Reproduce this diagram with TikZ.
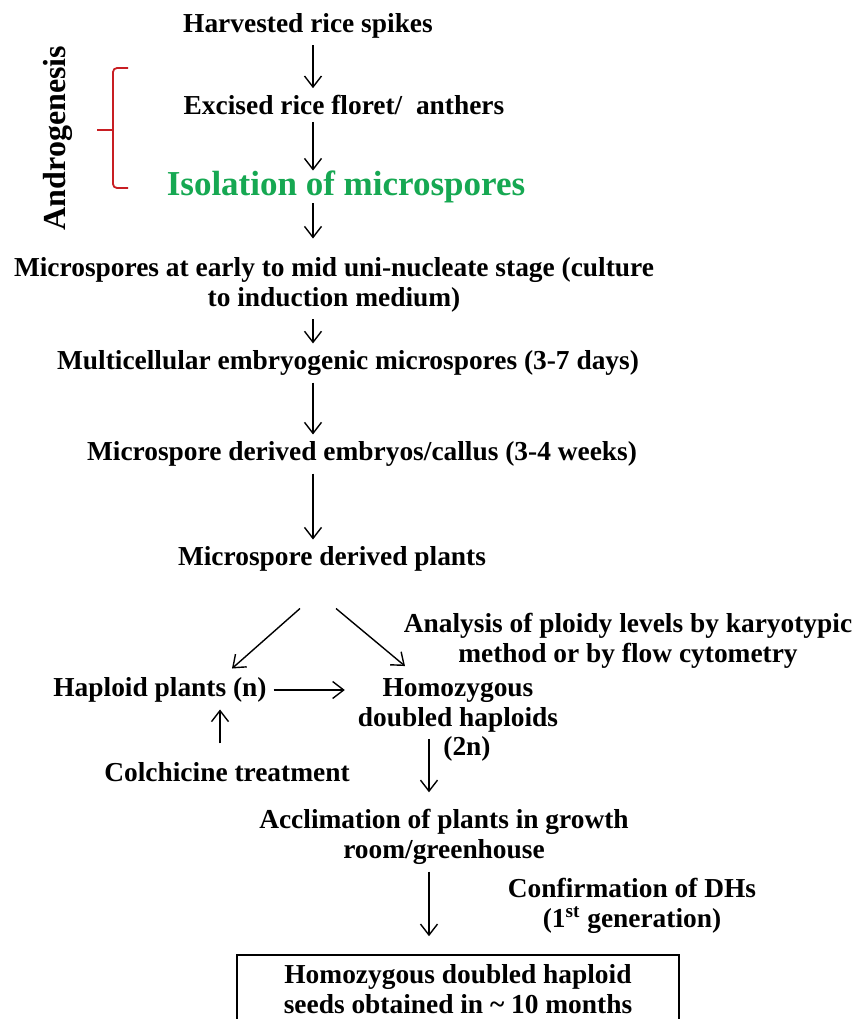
\documentclass[tikz,border=0pt]{standalone}
\usepackage{fontspec}
\setmainfont{Liberation Serif}
\usetikzlibrary{arrows.meta,positioning,calc}

\definecolor{isogreen}{RGB}{22,168,82}
\definecolor{bracered}{RGB}{200,30,35}

\tikzset{
  stage/.style={font=\fontsize{13.7}{15}\selectfont\bfseries, align=center},
  flow/.style={-{Straight Barb[length=5.5pt,width=8.5pt]}, line width=0.7pt},
}

\begin{document}
\begin{tikzpicture}[x=0.5pt, y=-0.5pt]
    \useasboundingbox (0,0) rectangle (857,1019);

    % main chain
    \node (harvest) [stage] at (308,26) {Harvested rice spikes};
    \node (excised) [stage] at (344,105) {Excised rice floret/\ \ anthers};
    \node (isolation) [stage, text=isogreen, inner sep=0pt, font=\fontsize{17.5}{20}\selectfont\bfseries] at (346,187) {Isolation of microspores};
    \node (uninuc) [stage] at (334,285) {Microspores at early to mid uni-nucleate stage (culture\\to induction medium)};
    \node (multi) [stage] at (348,363) {Multicellular embryogenic microspores (3-7 days)};
    \node (embryo) [stage] at (362,454) {Microspore derived embryos/callus (3-4 weeks)};
    \node (plants) [stage] at (332,559) {Microspore derived plants};

    % ploidy split
    \node (ploidy) [stage] at (628,641) {Analysis of ploidy levels by karyotypic\\method or by flow cytometry};
    \node (haploid) [stage] at (160,690) {Haploid plants (n)};
    \node (homo) [stage] at (458,705) {Homozygous\\doubled haploids};
    \node (twon) [stage] at (467,749) {(2n)};
    \node (colch) [stage] at (227,772) {Colchicine treatment};

    % last steps
    \node (acclim) [stage] at (444,837) {Acclimation of plants in growth\\room/greenhouse};
    \node (confirm) [stage] at (632,906) {Confirmation of DHs\\(1\textsuperscript{st} generation)};
    \node (seeds) [stage, draw, line width=0.8pt, minimum width=221pt, minimum height=34pt] at (458,989) {Homozygous doubled haploid\\seeds obtained in \textasciitilde\ 10 months};

    % side label
    \node (andro) [rotate=90, font=\fontsize{16}{18}\selectfont\bfseries] at (58,138) {Androgenesis};
    \draw [bracered, line width=0.9pt, rounded corners=2pt] (128,68) -- (113,68) -- (113,188) -- (128,188);
    \draw [bracered, line width=0.9pt] (113,130) -- (97,130);

    % arrows
    \coordinate (axis) at (313,0);
    \foreach \a/\b in {harvest/excised, excised/isolation, uninuc/multi, multi/embryo, embryo/plants}
        \draw [flow] (\a.south -| axis) -- (\b.north -| axis);
    \draw [flow, shorten >=6pt] (isolation.south -| axis) -- (uninuc.north -| axis);

    \draw [flow] ($(plants.south)+(-32,30)$) -- ($(haploid.north)+(72,-2)$);
    \draw [flow] ($(plants.south)+(4,30)$) -- ($(homo.north)+(-53,-5)$);
    \draw [flow] (haploid.east) -- ($(haploid.east -| homo.west)+(-6,0)$);

    \coordinate (up) at ($(colch.north)+(-7,0)$);
    \draw [flow, shorten <=6pt] (up) -- (up |- haploid.south);

    \coordinate (down) at (429,0);
    \draw [flow, shorten >=5pt] (homo.south -| down) -- (acclim.north -| down);
    \draw [flow, shorten >=9pt] (acclim.south -| down) -- (seeds.north -| down);
\end{tikzpicture}
\end{document}
